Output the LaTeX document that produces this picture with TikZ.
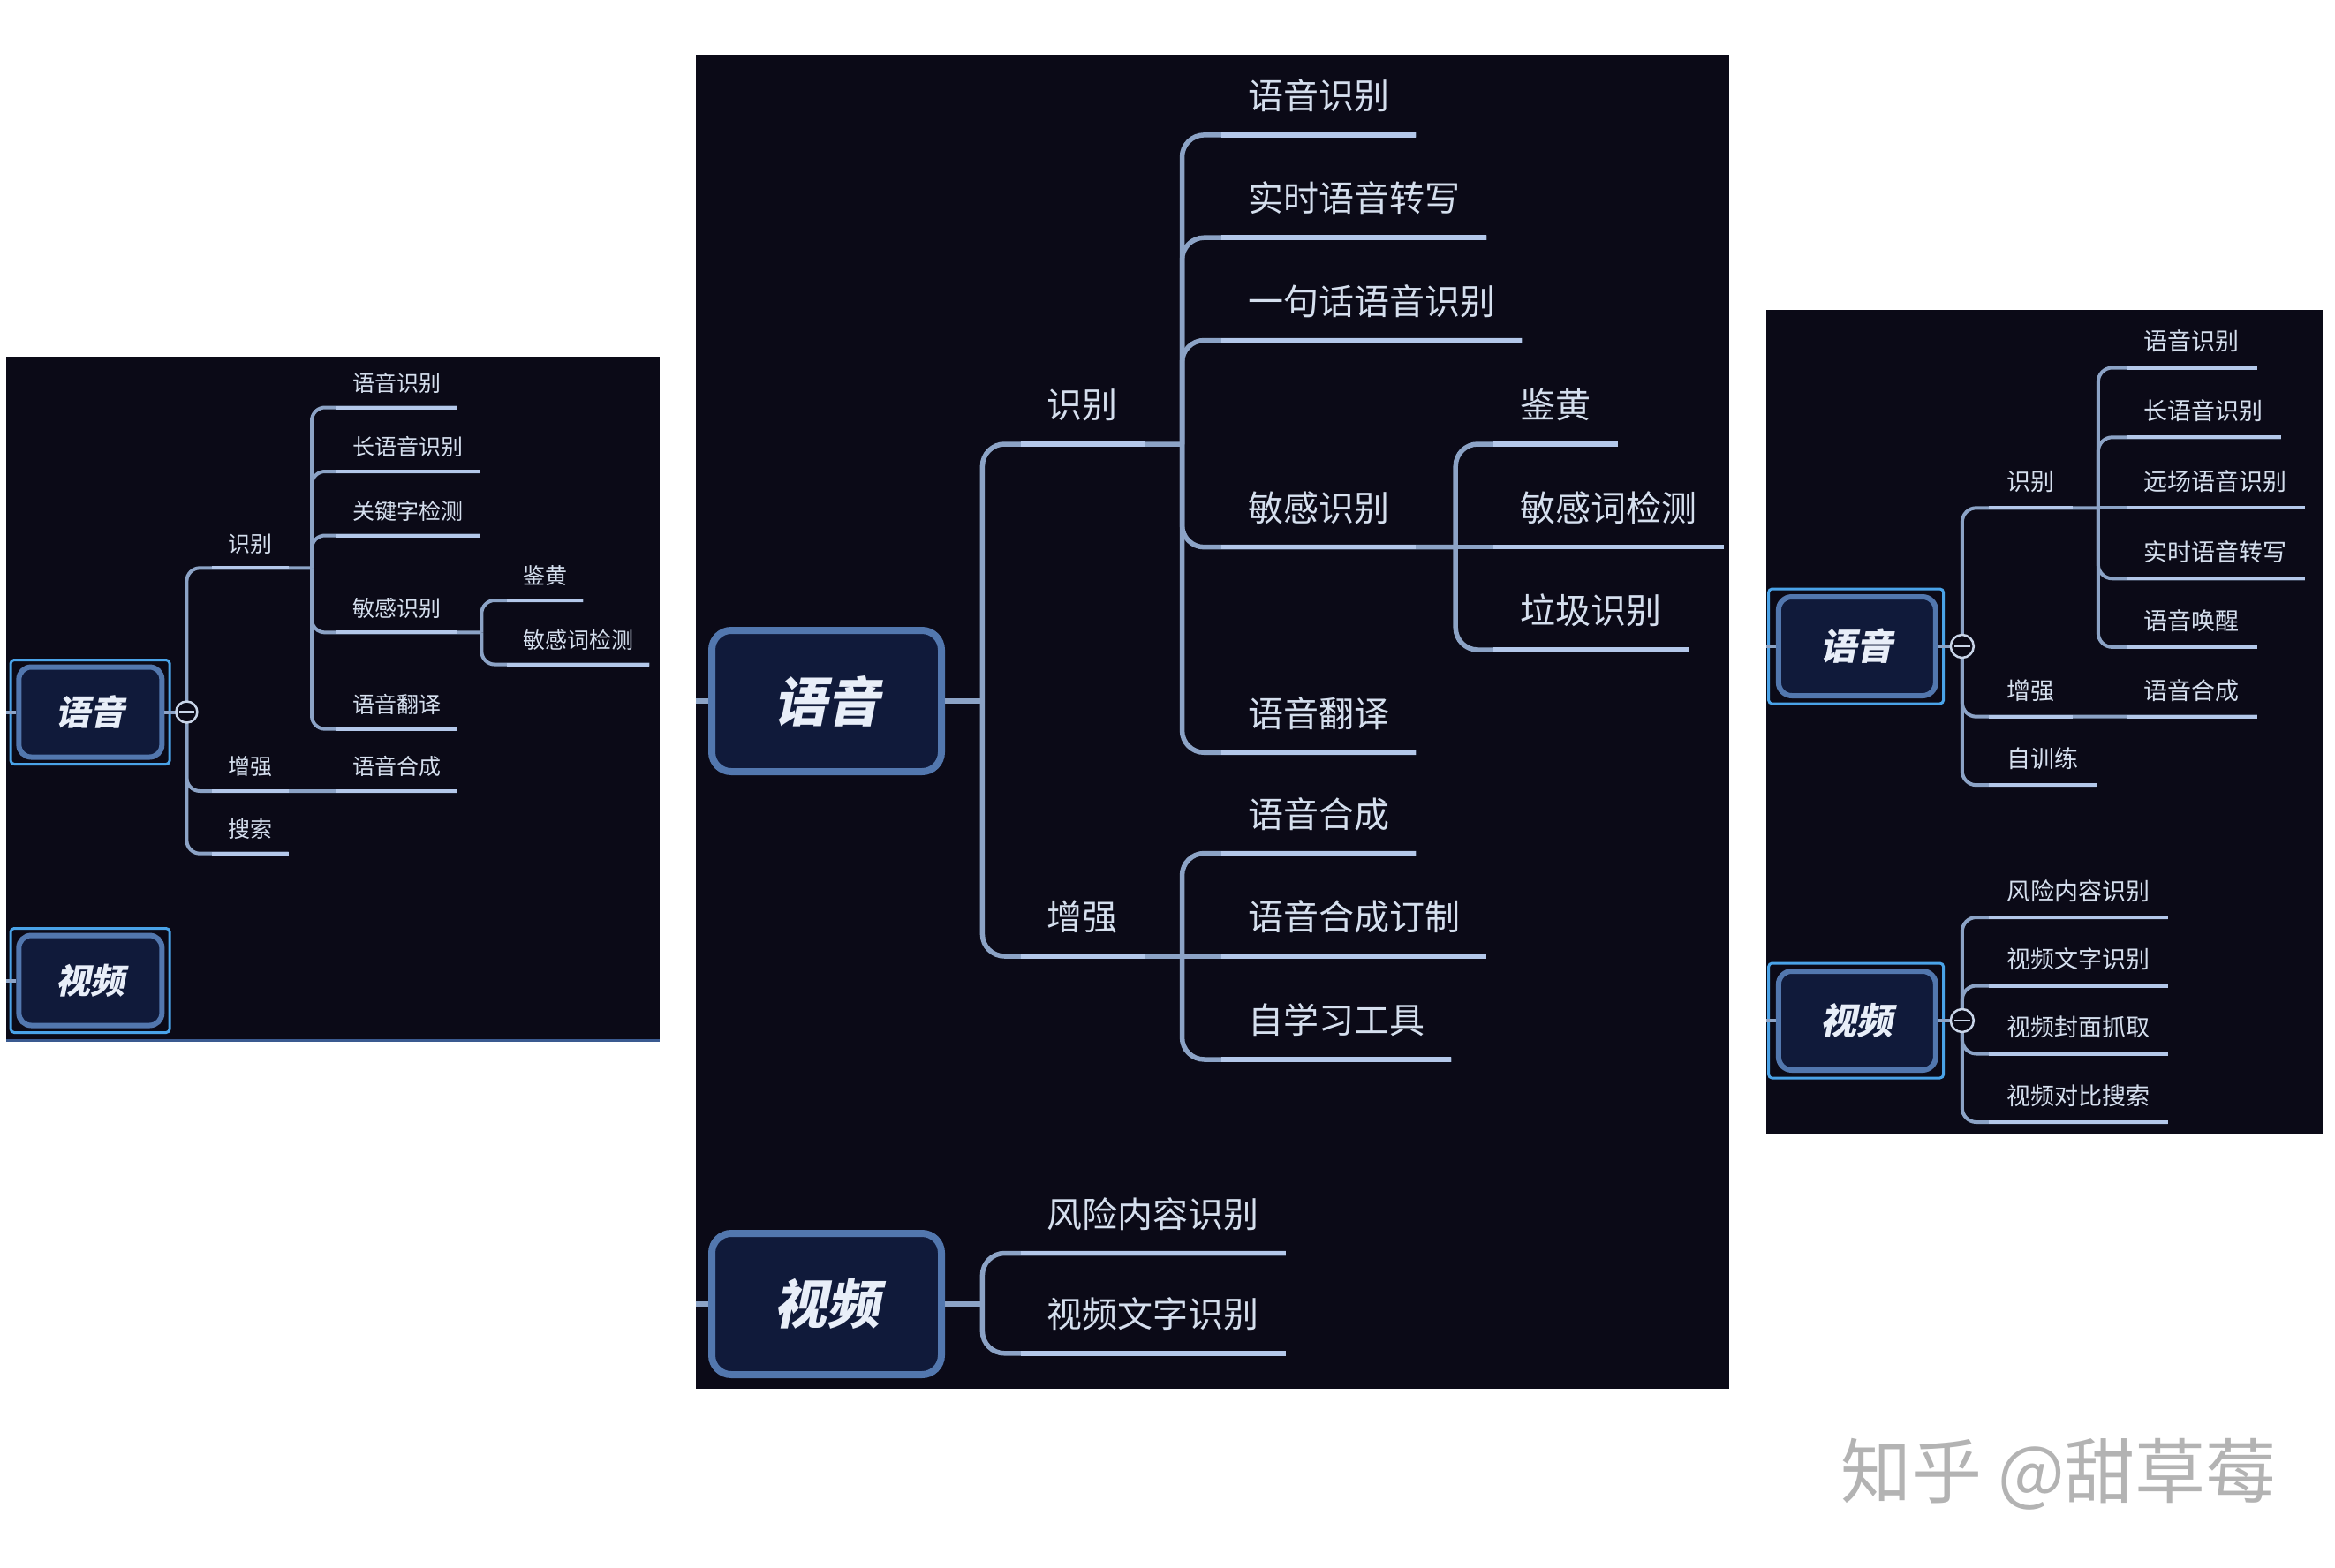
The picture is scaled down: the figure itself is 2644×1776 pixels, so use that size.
\documentclass[tikz,border=0pt]{standalone}
\usepackage{fontspec}
\usepackage{tikz}
\setmainfont{Noto Sans CJK SC}
\newfontfamily\topicfont{Noto Sans CJK SC}[FakeSlant=0.2]
\definecolor{Panel}{HTML}{0B0A17}
\definecolor{TopicFill}{HTML}{101A3A}
\definecolor{TopicRim}{HTML}{5277AE}
\definecolor{TopicInk}{HTML}{E8EEF8}
\definecolor{Select}{HTML}{4AA3E8}
\definecolor{Twig}{HTML}{8CA3C6}
\definecolor{TwigLit}{HTML}{B4C8EA}
\definecolor{Ink}{HTML}{D5DFEE}
\definecolor{Knob}{HTML}{C9D5E8}
\definecolor{Rimline}{HTML}{3A5A90}
\definecolor{Mark}{HTML}{B3B3B3}

\begin{document}
\begin{tikzpicture}[x=1pt,y=-1pt,
  twigL/.style={draw=Twig,line width=4pt,rounded corners=15pt},
  twigM/.style={draw=Twig,line width=5.5pt,rounded corners=25pt},
  twigR/.style={draw=Twig,line width=4pt,rounded corners=16pt},
  lit/.style={draw=TwigLit,line width=#1},
  lbl/.style={anchor=south west,inner ysep=0pt,text=Ink},
  lblL/.style={lbl,inner xsep=18pt,font=\fontsize{25}{30}\selectfont,text height=22pt,text depth=18pt},
  lblM/.style={lbl,inner xsep=30pt,font=\fontsize{40}{48}\selectfont,text height=35pt,text depth=29pt},
  lblR/.style={lbl,inner xsep=20pt,font=\fontsize{27}{32}\selectfont,text height=24pt,text depth=19.5pt},
  topic/.style={draw=TopicRim,fill=TopicFill,inner sep=0pt,text=TopicInk,font=\topicfont\bfseries\fontsize{#1}{#1}\selectfont},
  topicL/.style={topic=39,line width=6pt,rounded corners=14pt,minimum width=162pt,minimum height=102pt},
  topicM/.style={topic=60,line width=8pt,rounded corners=22pt,minimum width=260pt,minimum height=160pt},
  topicR/.style={topic=41,line width=6pt,rounded corners=15pt,minimum width=178pt,minimum height=112pt},
  selL/.style={draw=Select,line width=3pt,rounded corners=4pt,minimum width=180pt,minimum height=118pt},
  selR/.style={draw=Select,line width=3pt,rounded corners=4pt,minimum width=198pt,minimum height=130pt},
  collapse/.style={circle,draw=Knob,fill=Panel,line width=2.5pt,inner sep=0pt,minimum size=#1}]
  \path[use as bounding box,fill=white] (0,0) rectangle (2644,1776);

  % left panel
  \fill[Panel] (7,404) rectangle (747,1180);
  \draw[Rimline,line width=3pt] (7,1178) -- (747,1178);
  \coordinate (Lj) at (211.4,806.5);
  \coordinate (Lrec-j) at (353,643.3);
  \coordinate (Lsen-j) at (545.3,716.4);
  \coordinate (Ledge1) at (7,806.5);
  \coordinate (Ledge2) at (7,1110.5);
  \node[lblL] (Lrec) at (240.3,643.3) {识别};
  \node[lblL] (Lenh) at (240.3,896) {增强};
  \node[lblL] (Lsrch) at (240.3,966.7) {搜索};
  \node[lblL] (Lasr) at (381.4,461.5) {语音识别};
  \node[lblL] (Llong) at (381.4,534) {长语音识别};
  \node[lblL] (Lkw) at (381.4,606.5) {关键字检测};
  \node[lblL] (Lsen) at (381.4,716.4) {敏感识别};
  \node[lblL] (Ltrans) at (381.4,825.7) {语音翻译};
  \node[lblL] (Ltts) at (381.4,896) {语音合成};
  \node[lblL] (Lporn) at (574,680) {鉴黄};
  \node[lblL] (Lword) at (574,752.6) {敏感词检测};
  \draw[twigL] (Lj) |- (Lrec-j);
  \draw[twigL] (Lj) |- (Ltts.south east);
  \draw[twigL] (Lj) |- (Lsrch.south east);
  \draw[twigL] (Lrec-j) |- (Lasr.south east);
  \draw[twigL] (Lrec-j) |- (Llong.south east);
  \draw[twigL] (Lrec-j) |- (Lkw.south east);
  \draw[twigL] (Lrec-j) |- (Lsen-j);
  \draw[twigL] (Lrec-j) |- (Ltrans.south east);
  \draw[twigL] (Lsen-j) |- (Lporn.south east);
  \draw[twigL] (Lsen-j) |- (Lword.south east);
  \foreach \n in {Lrec,Lenh,Lsrch,Lasr,Llong,Lkw,Lsen,Ltrans,Ltts,Lporn,Lword}
    \draw[lit=4pt] (\n.south west) -- (\n.south east);
  \node[selL] (Lvoice-sel) at (102.1,806.5) {};
  \node[topicL] (Lvoice) at (102.35,806.5) {语音};
  \node[selL] (Lvid-sel) at (102.1,1110.5) {};
  \node[topicL] (Lvid) at (102.35,1110.5) {视频};
  \draw[twigL] (Ledge1) -- (Lvoice.west);
  \draw[twigL] (Ledge2) -- (Lvid.west);
  \draw[twigL] (Lvoice.east) -- (Lj);
  \node[collapse=24pt] (Lvoice-c) at (Lj) {};
  \draw[Knob,line width=2.5pt] ([xshift=5pt]Lvoice-c.west) -- ([xshift=-5pt]Lvoice-c.east);

  % middle panel
  \fill[Panel] (787.5,62) rectangle (1958,1573);
  \coordinate (Mj) at (1112.4,794);
  \coordinate (Mrec-j) at (1338.5,503);
  \coordinate (Menh-j) at (1338.5,1083);
  \coordinate (Msen-j) at (1648.2,619.7);
  \coordinate (Mvid-j) at (1112.4,1477);
  \coordinate (Medge1) at (787.5,794);
  \coordinate (Medge2) at (787.5,1477);
  \node[lblM] (Mrec) at (1155.5,503) {识别};
  \node[lblM] (Menh) at (1155.5,1083) {增强};
  \node[lblM] (Masr) at (1383,152.9) {语音识别};
  \node[lblM] (Mrt) at (1383,269.2) {实时语音转写};
  \node[lblM] (Mone) at (1383,385.5) {一句话语音识别};
  \node[lblM] (Msen) at (1383,619.7) {敏感识别};
  \node[lblM] (Mtrans) at (1383,852.3) {语音翻译};
  \node[lblM] (Mporn) at (1691.3,503) {鉴黄};
  \node[lblM] (Mword) at (1691.3,619.7) {敏感词检测};
  \node[lblM] (Mspam) at (1691.3,736) {垃圾识别};
  \node[lblM] (Mtts) at (1383,966.5) {语音合成};
  \node[lblM] (Mttsc) at (1383,1083) {语音合成订制};
  \node[lblM] (Mself) at (1383,1200) {自学习工具};
  \node[lblM] (Mrisk) at (1155.5,1419.5) {风险内容识别};
  \node[lblM] (Mocr) at (1155.5,1532.8) {视频文字识别};
  \draw[twigM] (Mj) |- (Mrec-j);
  \draw[twigM] (Mj) |- (Menh-j);
  \draw[twigM] (Mrec-j) |- (Masr.south east);
  \draw[twigM] (Mrec-j) |- (Mrt.south east);
  \draw[twigM] (Mrec-j) |- (Mone.south east);
  \draw[twigM] (Mrec-j) |- (Msen-j);
  \draw[twigM] (Mrec-j) |- (Mtrans.south east);
  \draw[twigM] (Msen-j) |- (Mporn.south east);
  \draw[twigM] (Msen-j) -- (Mword.south east);
  \draw[twigM] (Msen-j) |- (Mspam.south east);
  \draw[twigM] (Menh-j) |- (Mtts.south east);
  \draw[twigM] (Menh-j) -- (Mttsc.south east);
  \draw[twigM] (Menh-j) |- (Mself.south east);
  \draw[twigM] (Mvid-j) |- (Mrisk.south east);
  \draw[twigM] (Mvid-j) |- (Mocr.south east);
  \foreach \n in {Mrec,Menh,Masr,Mrt,Mone,Msen,Mtrans,Mporn,Mword,Mspam,Mtts,Mttsc,Mself,Mrisk,Mocr}
    \draw[lit=5.5pt] (\n.south west) -- (\n.south east);
  \node[topicM] (Mvoice) at (936,794) {语音};
  \node[topicM] (Mvid) at (936,1477) {视频};
  \draw[twigM] (Medge1) -- (Mvoice.west);
  \draw[twigM] (Medge2) -- (Mvid.west);
  \draw[twigM] (Mvoice.east) -- (Mj);
  \draw[twigM] (Mvid.east) -- (Mvid-j);

  % right panel
  \fill[Panel] (2000,351) rectangle (2630,1284);
  \coordinate (Rj) at (2221.8,732);
  \coordinate (Rrec-j) at (2375.8,575.3);
  \coordinate (Rvid-j) at (2221.8,1156);
  \coordinate (Redge1) at (2000,732);
  \coordinate (Redge2) at (2000,1156);
  \node[lblR] (Rrec) at (2252.3,575.3) {识别};
  \node[lblR] (Renh) at (2252.3,811.7) {增强};
  \node[lblR] (Rself) at (2252.3,889.2) {自训练};
  \node[lblR] (Rasr) at (2407.5,416.5) {语音识别};
  \node[lblR] (Rlong) at (2407.5,495.3) {长语音识别};
  \node[lblR] (Rfar) at (2407.5,575.3) {远场语音识别};
  \node[lblR] (Rrt) at (2407.5,655.3) {实时语音转写};
  \node[lblR] (Rwake) at (2407.5,732.9) {语音唤醒};
  \node[lblR] (Rtts) at (2407.5,811.7) {语音合成};
  \node[lblR] (Rrisk) at (2252.3,1039) {风险内容识别};
  \node[lblR] (Rocr) at (2252.3,1116.5) {视频文字识别};
  \node[lblR] (Rcover) at (2252.3,1193.5) {视频封面抓取};
  \node[lblR] (Rcmp) at (2252.3,1271) {视频对比搜索};
  \draw[twigR] (Rj) |- (Rrec-j);
  \draw[twigR] (Rj) |- (Rtts.south east);
  \draw[twigR] (Rj) |- (Rself.south east);
  \draw[twigR] (Rrec-j) |- (Rasr.south east);
  \draw[twigR] (Rrec-j) |- (Rlong.south east);
  \draw[twigR] (Rrec-j) -- (Rfar.south east);
  \draw[twigR] (Rrec-j) |- (Rrt.south east);
  \draw[twigR] (Rrec-j) |- (Rwake.south east);
  \draw[twigR] (Rvid-j) |- (Rrisk.south east);
  \draw[twigR] (Rvid-j) |- (Rocr.south east);
  \draw[twigR] (Rvid-j) |- (Rcover.south east);
  \draw[twigR] (Rvid-j) |- (Rcmp.south east);
  \foreach \n in {Rrec,Renh,Rself,Rasr,Rlong,Rfar,Rrt,Rwake,Rtts,Rrisk,Rocr,Rcover,Rcmp}
    \draw[lit=4pt] (\n.south west) -- (\n.south east);
  \node[selR] (Rvoice-sel) at (2101.6,732) {};
  \node[topicR] (Rvoice) at (2102.85,732) {语音};
  \node[selR] (Rvid-sel) at (2101.6,1156) {};
  \node[topicR] (Rvid) at (2102.85,1156) {视频};
  \draw[twigR] (Redge1) -- (Rvoice.west);
  \draw[twigR] (Redge2) -- (Rvid.west);
  \draw[twigR] (Rvoice.east) -- (Rj);
  \draw[twigR] (Rvid.east) -- (Rvid-j);
  \node[collapse=26pt] (Rvoice-c) at (Rj) {};
  \draw[Knob,line width=2.5pt] ([xshift=5.5pt]Rvoice-c.west) -- ([xshift=-5.5pt]Rvoice-c.east);
  \node[collapse=26pt] (Rvid-c) at (Rvid-j) {};
  \draw[Knob,line width=2.5pt] ([xshift=5.5pt]Rvid-c.west) -- ([xshift=-5.5pt]Rvid-c.east);

  % watermark
  \node[anchor=west,inner sep=0pt,text=Mark,font=\fontsize{80}{80}\selectfont] (mark) at (2084,1670) {知乎 @甜草莓};
\end{tikzpicture}
\end{document}
